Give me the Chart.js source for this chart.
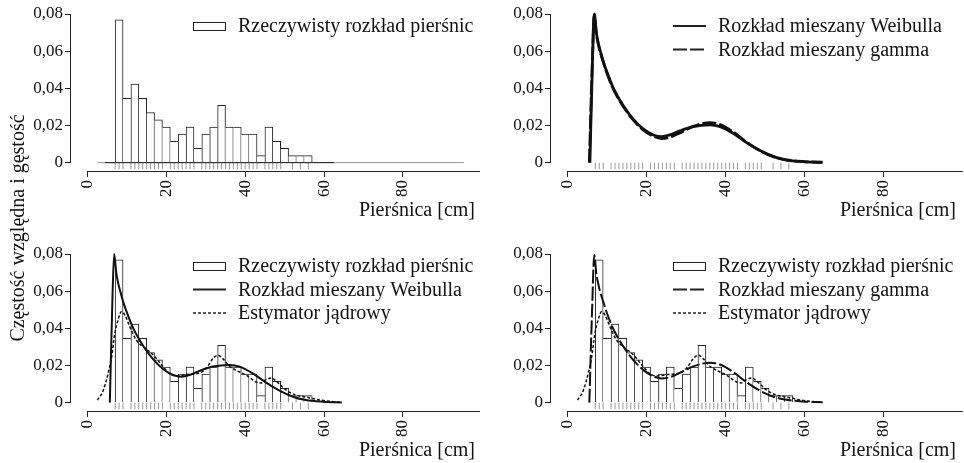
<!DOCTYPE html>
<html>
<head>
<meta charset="utf-8">
<script src="https://cdn.jsdelivr.net/npm/chart.js@4.4.1/dist/chart.umd.min.js"></script>
<style>
  body { margin: 0; background: #fff; width: 964px; height: 463px; position: relative; overflow: hidden; font-family: 'Liberation Serif', 'Times New Roman', serif; }
  .panel { position: absolute; }
  #yTitle { position: absolute; left: -133px; top: 216px; width: 300px; height: 24px; line-height: 24px; text-align: center; font-size: 20px; color: #111; transform: rotate(-90deg); white-space: nowrap; }
</style>
</head>
<body>
<div class="panel" style="left:0;top:0"><canvas id="c1" width="480" height="231"></canvas></div>
<div class="panel" style="left:480px;top:0"><canvas id="c2" width="484" height="231"></canvas></div>
<div class="panel" style="left:0;top:240px"><canvas id="c3" width="480" height="223"></canvas></div>
<div class="panel" style="left:480px;top:240px"><canvas id="c4" width="484" height="223"></canvas></div>
<div id="yTitle">Częstość względna i gęstość</div>
<script>
// histogram: 2 cm classes, density
const binCenters = [8, 10, 12, 14, 16, 18, 20, 22, 24, 26, 28, 30, 32, 34, 36, 38, 40, 42, 44, 46, 48, 50, 52, 54, 56];
const histDensity = [0.0769, 0.0346, 0.0423, 0.0346, 0.0269, 0.0231, 0.0192, 0.0115, 0.0154, 0.0192, 0.0077, 0.0154, 0.0192,
                     0.0308, 0.0192, 0.0192, 0.0154, 0.0154, 0.0038, 0.0192, 0.0115, 0.0077, 0.0038, 0.0038, 0.0038];

// rug (measured diameters)
const rugDbh = [7, 8, 9, 11, 12, 13, 14, 15, 16, 17, 18, 19, 21, 22, 23, 24, 25, 26, 27, 29, 30, 31, 32, 33, 34, 35, 36,
                37, 38, 39, 40, 41, 42, 43, 45, 46, 47, 48, 49, 52, 54, 56];

// mixed Weibull density
const weibullX = [5.65, 6.3, 6.75, 7.3, 7.8, 8.2, 9.0, 9.9, 11.6, 14.1, 16.6, 19.2, 21.7, 23.8, 25.9, 28.4, 31.8, 36.0, 38.6, 41.9, 45.3, 48.7, 52.1, 55.4, 59.7, 64.5];
const weibullY = [0, 0.055, 0.080, 0.0697, 0.064, 0.0607, 0.0545, 0.049, 0.040, 0.0306, 0.0234, 0.018, 0.0149, 0.014, 0.0149, 0.0171, 0.0194, 0.0203, 0.0194, 0.0158, 0.0108, 0.0065, 0.0032, 0.0014, 0.0005, 0.0001];

// mixed gamma density
const gammaX = [5.5, 6.2, 6.75, 7.3, 7.8, 8.2, 9.0, 9.9, 11.6, 14.1, 16.6, 19.2, 21.7, 23.8, 25.9, 28.4, 31.8, 36.0, 38.6, 41.9, 45.3, 48.7, 52.1, 55.4, 59.7, 64.5];
const gammaY = [0, 0.050, 0.0795, 0.069, 0.0635, 0.060, 0.0545, 0.0485, 0.0395, 0.0302, 0.0230, 0.0175, 0.0142, 0.0130, 0.0137, 0.0160, 0.0195, 0.0215, 0.0205, 0.0165, 0.0110, 0.0064, 0.0032, 0.0015, 0.0006, 0.0002];

// kernel estimator
const kernelX = [2.5, 4.0, 5.2, 6.1, 6.9, 7.8, 8.6, 9.5, 10.7, 12.4, 14.1, 15.8, 17.5, 19.2, 20.8, 22.5, 25.1, 27.6, 29.3, 30.5, 31.8, 33.1,
                 34.3, 36.0, 37.7, 40.3, 42.8, 44.0, 45.3, 46.6, 47.8, 50.4, 52.9, 55.4, 58.0, 61.4, 64.5];
const kernelY = [0.0013, 0.0067, 0.0156, 0.0246, 0.037, 0.045, 0.049, 0.047, 0.041, 0.0336, 0.030, 0.0273, 0.0237, 0.0192, 0.0156, 0.0144,
                 0.0151, 0.0156, 0.0169, 0.0196, 0.0237, 0.0255, 0.0237, 0.0196, 0.0174, 0.0147, 0.0111, 0.0106, 0.0124, 0.0133, 0.0117,
                 0.0067, 0.004, 0.003, 0.0018, 0.0007, 0.0002];

// the two zero lines of the first panel
const greyLineX = [2.5, 95.5];
const blackLineX = [4.4, 62.6];

const xTicks = [0, 20, 40, 60, 80];
const yTicks = [0, 0.02, 0.04, 0.06, 0.08];

const FONT = "'Liberation Serif', 'Times New Roman', serif";
Chart.defaults.font.family = FONT;
Chart.defaults.color = '#111';

const pts = (xs, ys) => xs.map((x, i) => ({ x: x, y: ys[i] }));

// axis lines drawn tick to tick, R style
const rAxes = {
  id: 'rAxes',
  afterDraw(chart) {
    const { ctx, chartArea, scales } = chart;
    const x = scales.x, y = scales.y;
    ctx.save();
    ctx.strokeStyle = '#222';
    ctx.lineWidth = 1;
    ctx.beginPath();
    const yb = Math.round(chartArea.bottom) + 0.5;
    ctx.moveTo(x.getPixelForValue(0), yb);
    ctx.lineTo(x.getPixelForValue(100), yb);
    const xl = Math.round(chartArea.left) - 0.5;
    ctx.moveTo(xl, y.getPixelForValue(0));
    ctx.lineTo(xl, y.getPixelForValue(0.08));
    ctx.stroke();
    ctx.restore();
  }
};

// legend in the top right corner
const rLegend = {
  id: 'rLegend',
  afterDraw(chart, args, opts) {
    const ctx = chart.ctx;
    ctx.save();
    ctx.font = '20px ' + FONT;
    ctx.textBaseline = 'middle';
    opts.items.forEach((it, i) => {
      const yy = opts.top + i * 23.5;
      ctx.strokeStyle = '#222';
      if (it.kind === 'box') {
        ctx.lineWidth = 1;
        ctx.setLineDash([]);
        ctx.fillStyle = '#fff';
        ctx.fillRect(193.5, Math.round(yy) - 3.5, 32, 8);
        ctx.strokeRect(193.5, Math.round(yy) - 3.5, 32, 8);
      } else {
        ctx.lineWidth = it.width;
        ctx.setLineDash(it.dash || []);
        ctx.beginPath();
        ctx.moveTo(193, yy);
        ctx.lineTo(226, yy);
        ctx.stroke();
      }
      ctx.setLineDash([]);
      ctx.fillStyle = '#111';
      ctx.fillText(it.label, 238, yy + 1);
    });
    ctx.restore();
  }
};
Chart.register(rAxes, rLegend);

function histDataset() {
  const last = histDensity.length - 1;
  return {
    type: 'bar',
    data: pts(binCenters, histDensity),
    backgroundColor: '#fff',
    borderColor: '#222',
    borderSkipped: false,
    borderWidth: ctx => {
      const i = ctx.dataIndex, h = histDensity[i];
      return {
        top: 1, bottom: 0,
        left: (i === 0 || histDensity[i - 1] < h) ? 1 : 0,
        right: (i === last || histDensity[i + 1] <= h) ? 1 : 0
      };
    },
    barPercentage: 1,
    categoryPercentage: 1,
    order: 5
  };
}

function rugDataset() {
  return {
    type: 'line',
    data: rugDbh.map(x => ({ x: x, y: -0.0018 })),
    showLine: false,
    pointStyle: 'line',
    pointRotation: 90,
    pointRadius: 3.3,
    pointBorderColor: '#999',
    pointBorderWidth: 1,
    order: 4
  };
}

function curve(xs, ys, width, dash) {
  return {
    type: 'line',
    data: pts(xs, ys),
    borderColor: '#111',
    borderWidth: width,
    borderDash: dash,
    pointRadius: 0,
    cubicInterpolationMode: 'monotone',
    clip: false,
    order: 1
  };
}

function makeChart(id, canvasW, canvasH, titlePad, datasets, legendItems) {
  new Chart(document.getElementById(id), {
    type: 'line',
    data: { datasets: datasets },
    options: {
      responsive: false,
      animation: false,
      events: [],
      layout: { padding: { top: 14, left: 0, right: canvasW - 476, bottom: 0 } },
      plugins: {
        legend: { display: false },
        tooltip: { enabled: false },
        rLegend: { items: legendItems, top: 26 }
      },
      scales: {
        x: {
          type: 'linear',
          min: -4.2,
          max: 98.3,
          offset: false,
          afterFit(s) { s.height = canvasH - 171; },
          afterBuildTicks(s) { s.ticks = xTicks.map(v => ({ value: v })); },
          border: { display: false },
          grid: { offset: false, drawOnChartArea: false, drawTicks: true, tickLength: 6, tickColor: '#222' },
          ticks: { padding: 3, minRotation: 90, maxRotation: 90, autoSkip: false, font: { size: 17 }, color: '#111' },
          title: { display: true, text: 'Pierśnica [cm]', align: 'end', font: { size: 20 }, color: '#111', padding: { top: 0, bottom: titlePad } }
        },
        y: {
          type: 'linear',
          min: -0.0045,
          max: 0.08,
          afterFit(s) { s.width = 71; },
          afterBuildTicks(s) { s.ticks = yTicks.map(v => ({ value: v })); },
          border: { display: false },
          grid: { drawOnChartArea: false, drawTicks: true, tickLength: 6, tickColor: '#222' },
          ticks: {
            padding: 2, font: { size: 17 }, color: '#111',
            callback: v => v === 0 ? '0' : v.toFixed(2).replace('.', ',')
          }
        }
      }
    }
  });
}

const lgHist = { kind: 'box', label: 'Rzeczywisty rozkład pierśnic' };
const lgWeib = { kind: 'line', width: 2, label: 'Rozkład mieszany Weibulla' };
const lgGamma = { kind: 'line', width: 2, dash: [14, 3], label: 'Rozkład mieszany gamma' };
const lgKern = { kind: 'line', width: 1.5, dash: [3, 2], label: 'Estymator jądrowy' };

// panel 1: histogram only
makeChart('c1', 480, 231, 8, [
  histDataset(),
  { type: 'line', data: greyLineX.map(x => ({ x: x, y: 0 })), borderColor: '#999', borderWidth: 1, pointRadius: 0, order: 6 },
  { type: 'line', data: blackLineX.map(x => ({ x: x, y: 0 })), borderColor: '#222', borderWidth: 1, pointRadius: 0, order: 2 },
  rugDataset()
], [lgHist]);

// panel 2: both mixtures
makeChart('c2', 484, 231, 8, [
  curve(weibullX, weibullY, 2.8, []),
  curve(gammaX, gammaY, 2.8, [14, 3]),
  rugDataset()
], [lgWeib, lgGamma]);

// panel 3: histogram, Weibull mixture, kernel
makeChart('c3', 480, 223, 0, [
  histDataset(),
  curve(weibullX, weibullY, 2, []),
  curve(kernelX, kernelY, 1.5, [3, 2]),
  rugDataset()
], [lgHist, lgWeib, lgKern]);

// panel 4: histogram, gamma mixture, kernel
makeChart('c4', 484, 223, 0, [
  histDataset(),
  curve(gammaX, gammaY, 2, [14, 3]),
  curve(kernelX, kernelY, 1.5, [3, 2]),
  rugDataset()
], [lgHist, lgGamma, lgKern]);
</script>
</body>
</html>
